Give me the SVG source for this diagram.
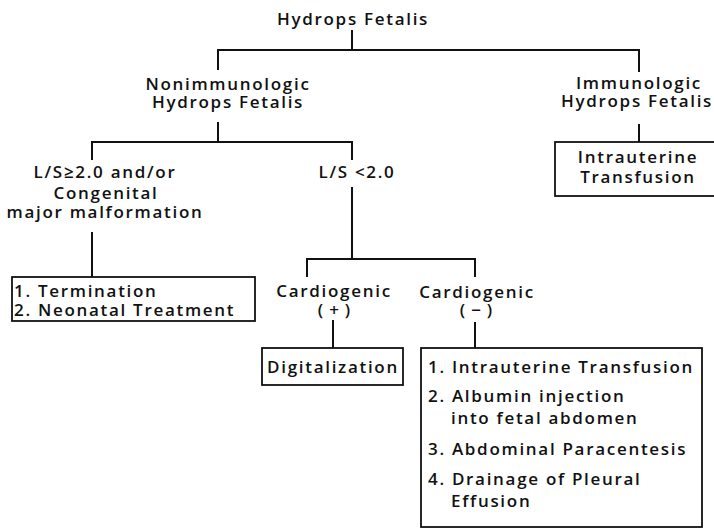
<svg xmlns="http://www.w3.org/2000/svg" width="714" height="530" viewBox="0 0 714 530">
<style>
text{font-family:"Open Sans","DejaVu Sans",sans-serif;font-size:17px;font-weight:600;fill:#111;letter-spacing:1.7px}
.c{text-anchor:middle}
.box{fill:#fff;stroke:#111;stroke-width:1.8}
.ln{fill:none;stroke:#111;stroke-width:2}
.pm{letter-spacing:6px}
</style>
<rect width="714" height="530" fill="#fff"/>
<g id="connectors">
<path class="ln" d="M352 30V50M218 70V50H639V72"/>
<path class="ln" d="M218 122V142M92 160V142H352V160"/>
<path class="ln" d="M639 124V142"/>
<path class="ln" d="M92 232V277"/>
<path class="ln" d="M352 187V259M307 277V259H475V277"/>
<path class="ln" d="M333 320V348"/>
<path class="ln" d="M475 322V348"/>
</g>
<g id="hydrops">
<text class="c" x="353" y="25">Hydrops Fetalis</text>
</g>
<g id="nonimmunologic">
<text class="c" x="228" y="90">Nonimmunologic</text>
<text class="c" x="228" y="108">Hydrops Fetalis</text>
</g>
<g id="immunologic">
<text class="c" x="639" y="89">Immunologic</text>
<text class="c" x="637" y="107">Hydrops Fetalis</text>
</g>
<g id="intrauterine-transfusion">
<rect class="box" x="555" y="142" width="170" height="54"/>
<text class="c" x="638" y="163">Intrauterine</text>
<text class="c" x="638" y="183">Transfusion</text>
</g>
<g id="ls-ge">
<text class="c" x="105" y="178">L/S≥2.0 and/or</text>
<text class="c" x="106" y="199">Congenital</text>
<text class="c" x="105" y="218">major malformation</text>
</g>
<g id="termination">
<rect class="box" x="12" y="277" width="243" height="44"/>
<text x="14" y="297">1. Termination</text>
<text x="14" y="316">2. Neonatal Treatment</text>
</g>
<g id="ls-lt">
<text class="c" x="357" y="178">L/S &lt;2.0</text>
</g>
<g id="cardiogenic-plus">
<text class="c" x="334" y="297">Cardiogenic</text>
<text class="c pm" x="337" y="316">(+)</text>
</g>
<g id="digitalization">
<rect class="box" x="262" y="348" width="141" height="37"/>
<text class="c" x="333" y="373">Digitalization</text>
</g>
<g id="cardiogenic-minus">
<text class="c" x="477" y="298">Cardiogenic</text>
<text class="c pm" x="479" y="316">(−)</text>
</g>
<g id="treatments">
<rect class="box" x="421" y="348" width="281" height="179"/>
<text x="428" y="373">1. Intrauterine Transfusion</text>
<text x="428" y="402">2. Albumin injection</text>
<text x="451" y="424">into fetal abdomen</text>
<text x="428" y="455">3. Abdominal Paracentesis</text>
<text x="428" y="485">4. Drainage of Pleural</text>
<text x="451" y="507">Effusion</text>
</g>
</svg>
